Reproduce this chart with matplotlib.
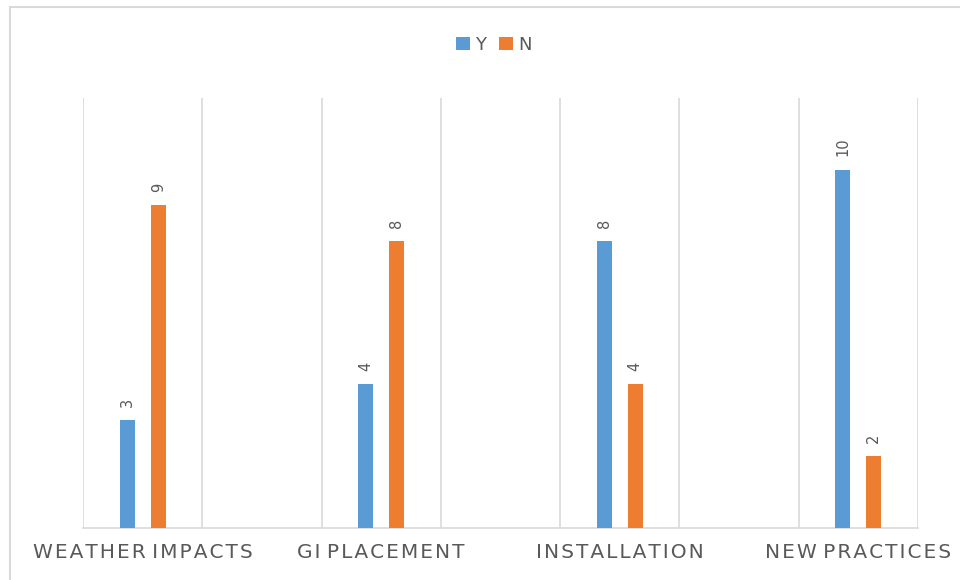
import matplotlib.pyplot as plt
import numpy as np
from matplotlib.patches import Rectangle

categories = ['WEATHER IMPACTS', 'GI PLACEMENT', 'INSTALLATION', 'NEW PRACTICES']
y_vals = [3, 4, 8, 10]
n_vals = [9, 8, 4, 2]

BLUE = '#5B9BD5'
ORANGE = '#ED7D31'
GRID = '#D9D9D9'
TEXT = '#595959'


def spaced(s):
    # rough letter spacing, Excel style (no extra gap around word spaces)
    out = s[0]
    for a, b in zip(s, s[1:]):
        if a != ' ' and b != ' ':
            out += '\u200a'
        out += b
    return out


fig = plt.figure(figsize=(9.6, 5.8), dpi=100)
ax = fig.add_axes([83 / 960, 1 - 527.5 / 580, 835 / 960, 429.5 / 580])

# chart border (cut off on the right and bottom)
fig.patches.append(Rectangle((10 / 960, -0.1), 1.1, 1.1 - 7 / 580,
                             transform=fig.transFigure, fill=False,
                             edgecolor=GRID, linewidth=1.5))

x = np.arange(len(categories)) * 2 + 0.5
w = 0.127
off = 0.13
b1 = ax.bar(x - off, y_vals, w, color=BLUE, label='Y', zorder=3)
b2 = ax.bar(x + off, n_vals, w, color=ORANGE, label='N', zorder=3)

for bars, vals in ((b1, y_vals), (b2, n_vals)):
    for r, v in zip(bars, vals):
        ax.annotate(str(v), (r.get_x() + r.get_width() / 2, v),
                    xytext=(0, 9.5), textcoords='offset points',
                    ha='center', va='bottom', rotation=90,
                    fontsize=10.5, color=TEXT)

ax.set_xlim(0, 7)
ax.set_ylim(0, 12)
ax.set_xticks(x)
ax.set_xticklabels([spaced(c) for c in categories], fontsize=14.5, color=TEXT)
ax.set_xticks(np.arange(8), minor=True)
ax.tick_params(axis='x', which='both', length=0, pad=11)
ax.grid(axis='x', which='minor', color=GRID, linewidth=1.2, zorder=0)
ax.set_yticks([])
for s in ('left', 'right', 'top'):
    ax.spines[s].set_visible(False)
ax.spines['bottom'].set_color(GRID)
ax.spines['bottom'].set_linewidth(1.2)

fig.legend(loc='center', bbox_to_anchor=(494 / 960, 1 - 45 / 580), ncol=2,
           frameon=False, fontsize=13, handlelength=0.75, handleheight=0.75,
           handletextpad=0.3, columnspacing=0.7, labelcolor=TEXT)

fig.savefig('out.png', dpi=100)
